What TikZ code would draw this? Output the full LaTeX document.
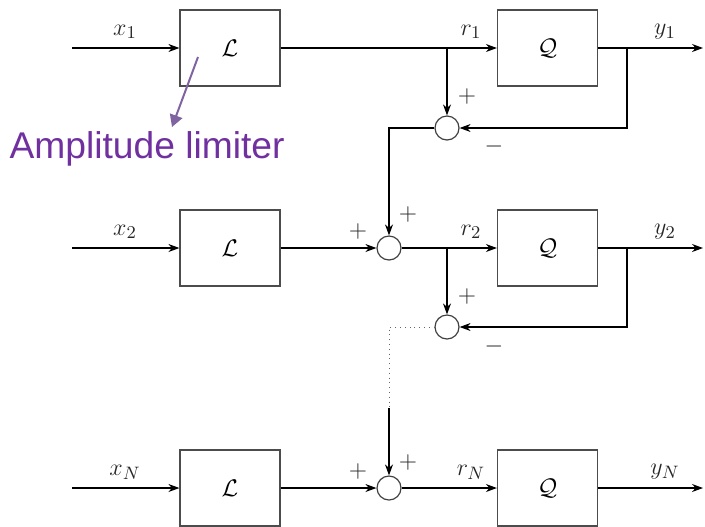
\documentclass[tikz,border=0pt]{standalone}
\usepackage{fontspec}
\newfontfamily\annfont{Liberation Sans}
\usetikzlibrary{arrows.meta}
\definecolor{annpurple}{HTML}{7030A0}
\definecolor{annarrow}{HTML}{8064A2}
\begin{document}
\begin{tikzpicture}[x=0.5pt,y=-0.5pt,
  line width=0.6pt,
  mathfont/.style={font=\fontsize{12.5}{15}\selectfont},
  blk/.style={draw=black!70,mathfont,minimum width=50pt,minimum height=38pt,inner sep=0pt},
  sumnode/.style={draw=black!75,circle,minimum size=12pt,inner sep=0pt},
  arr/.style={-{Stealth[length=5.5pt,width=4pt]}},
  lbl/.style={inner sep=0pt,mathfont,text=black!85}]
\useasboundingbox (0,0) rectangle (705,526);
% row 1
\node[blk] (L1) at (230,48) {$\mathcal{L}$};
\node[blk] (Q1) at (547.5,48) {$\mathcal{Q}$};
\coordinate (in1) at (72,48);
\coordinate (out1) at (703,48);
\coordinate (b1) at (447,48);
\coordinate (f1) at (627,48);
\node[sumnode] (s1) at (447,128) {};
\coordinate (c1) at (389,128);
% row 2
\node[blk] (L2) at (230,248) {$\mathcal{L}$};
\node[blk] (Q2) at (547.5,248) {$\mathcal{Q}$};
\coordinate (in2) at (72,248);
\coordinate (out2) at (703,248);
\coordinate (b2) at (447,248);
\coordinate (f2) at (627,248);
\node[sumnode] (s2) at (389,248) {};
\node[sumnode] (s3) at (447,327) {};
\coordinate (c3) at (389,327);
\coordinate (d3) at (389,408);
% row N
\node[blk] (LN) at (230,488) {$\mathcal{L}$};
\node[blk] (QN) at (547.5,488) {$\mathcal{Q}$};
\coordinate (inN) at (72,488);
\coordinate (outN) at (703,488);
\node[sumnode] (sN) at (389,488) {};
% connectors row 1
\draw[arr] (in1) -- (L1.west);
\draw[arr] (L1.east) -- (Q1.west);
\draw[arr] (Q1.east) -- (out1);
\draw[arr] (b1) -- (s1.north);
\draw[arr] (f1) |- (s1.east);
\draw[arr] (s1.west) -| (s2.north);
% connectors row 2
\draw[arr] (in2) -- (L2.west);
\draw[arr] (L2.east) -- (s2.west);
\draw[arr] (s2.east) -- (Q2.west);
\draw[arr] (Q2.east) -- (out2);
\draw[arr] (b2) -- (s3.north);
\draw[arr] (f2) |- (s3.east);
\draw[dotted,line width=0.4pt,black!60] (s3.west) -- (c3) -- (d3);
\draw[arr] (d3) -- (sN.north);
% connectors row N
\draw[arr] (inN) -- (LN.west);
\draw[arr] (LN.east) -- (sN.west);
\draw[arr] (sN.east) -- (QN.west);
\draw[arr] (QN.east) -- (outN);
% labels
\node[lbl] (lx1) at (125,32) {$x_1$};
\node[lbl] (lr1) at (471,32) {$r_1$};
\node[lbl] (ly1) at (665,32) {$y_1$};
\node[lbl] (lx2) at (125,232) {$x_2$};
\node[lbl] (lr2) at (471,232) {$r_2$};
\node[lbl] (ly2) at (665,232) {$y_2$};
\node[lbl] (lxN) at (125,472) {$x_N$};
\node[lbl] (lrN) at (471,472) {$r_N$};
\node[lbl] (lyN) at (665,472) {$y_N$};
\node[lbl] (p1) at (467,96) {$+$};
\node[lbl] (m1) at (494,146) {$-$};
\node[lbl] (p2l) at (358,231) {$+$};
\node[lbl] (p2t) at (408,214) {$+$};
\node[lbl] (p3) at (467,296) {$+$};
\node[lbl] (m3) at (494,346) {$-$};
\node[lbl] (pNl) at (358,471) {$+$};
\node[lbl] (pNt) at (408,462) {$+$};
% annotation
\node[inner sep=0pt,anchor=base west,text=annpurple,font=\annfont\fontsize{18.6}{22}\selectfont] (amp) at (9,158) {Amplitude limiter};
\coordinate (aStart) at (198,57);
\draw[annarrow,line width=1pt,-{Triangle[length=6pt,width=6.5pt]}] (aStart) -- (172,127);
\end{tikzpicture}
\end{document}
